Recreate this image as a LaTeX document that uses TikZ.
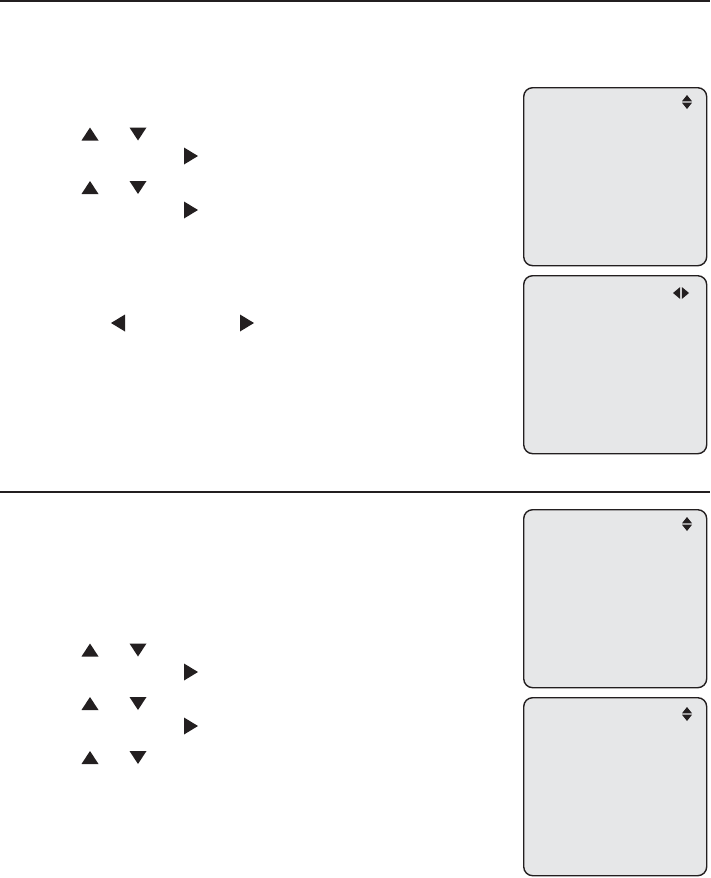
\documentclass[tikz,border=0pt]{standalone}
\usetikzlibrary{calc}
\definecolor{ink}{HTML}{231F20}
\definecolor{screen}{HTML}{E6E7E8}
\begin{document}
\begin{tikzpicture}[x=1pt,y=-1pt,
  rule/.style={draw=ink,line width=1.4pt},
  screenbox/.style={draw=ink,fill=screen,line width=1.4pt,rounded corners=9pt,
    minimum width=183pt,minimum height=178pt,inner sep=0pt,anchor=north west},
  upt/.pic={\fill[ink] (-8.5,6.5) -- (8.5,6.5) -- (0,-6.5) -- cycle;},
  dnt/.pic={\fill[ink] (-8.5,-6.5) -- (8.5,-6.5) -- (0,6.5) -- cycle;},
  rtt/.pic={\fill[ink] (-7,-8.5) -- (-7,8.5) -- (7,0) -- cycle;},
  ltt/.pic={\fill[ink] (7,-8.5) -- (7,8.5) -- (-7,0) -- cycle;},
  updn/.pic={\fill[ink] (-5,-0.7) -- (5,-0.7) -- (0,-7) -- cycle;
             \fill[ink] (-5,0.7) -- (5,0.7) -- (0,7) -- cycle;},
  lr/.pic={\fill[ink] (-0.8,-6) -- (-0.8,6) -- (-8,0) -- cycle;
           \fill[ink] (0.8,-6) -- (0.8,6) -- (8,0) -- cycle;}
]
\useasboundingbox (0,0) rectangle (710,878);
% rules
\coordinate (t1) at (0,1);
\coordinate (t2) at (710,1);
\draw[rule] (t1) -- (t2);
\coordinate (m1) at (0,492);
\coordinate (m2) at (710,492);
\draw[rule] (m1) -- (m2);
% screens
\node[screenbox] (s1) at (523,87) {};
\node[screenbox] (s2) at (523,275) {};
\node[screenbox] (s3) at (523,509) {};
\node[screenbox] (s4) at (523,697) {};
\pic at (687,102) {updn};
\pic at (681,293) {lr};
\pic at (687,524) {updn};
\pic at (687,714) {updn};
% left key symbols, upper section
\pic at (90,134) {upt};
\pic at (138,134) {dnt};
\pic at (191,156) {rtt};
\pic at (90,187.5) {upt};
\pic at (138,187.5) {dnt};
\pic at (191,210) {rtt};
\pic at (118,323) {ltt};
\pic at (247,323) {rtt};
% lower section
\pic at (90,650) {upt};
\pic at (138,650) {dnt};
\pic at (191,672) {rtt};
\pic at (90,703.5) {upt};
\pic at (138,703.5) {dnt};
\pic at (191,726) {rtt};
\pic at (90,757.5) {upt};
\pic at (138,757.5) {dnt};
\end{tikzpicture}
\end{document}
